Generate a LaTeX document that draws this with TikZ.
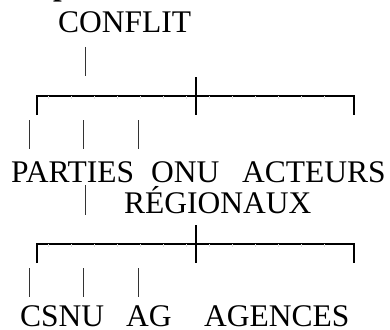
\documentclass[tikz,border=0pt]{standalone}
\usepackage{fontspec}
\setmainfont{Liberation Serif}
\begin{document}
\begin{tikzpicture}[x=1pt,y=-1pt,
    lbl/.style={anchor=base west,inner sep=0pt,font=\fontsize{31.5}{31.5}\selectfont},
    tick/.style={line width=0.9pt,black!80},
    bracket/.style={line width=2pt},
    seam/.style={line width=0.4pt,black!12}]
\useasboundingbox (0,0) rectangle (390,329);
\clip (0,0) rectangle (390,329);

% cut-off title above
\node[lbl,font=\bfseries\fontsize{31}{31}\selectfont] (titre) at (53,-4) {p};

% first level
\node[lbl] (conflit) at (58,33) {CONFLIT};
\draw[tick] (85,47) -- (85,76);

\draw[bracket] (37,115) -- (37,96) -- (354,96) -- (354,115);
\draw[bracket] (196,77) -- (196,115);
\foreach \x in {48,71,...,340}
    \draw[seam] (\x,96) -- (\x,99);
\foreach \x in {29,83,138}
    \draw[tick] (\x,120) -- (\x,149);

% second level
\node[lbl] (parties) at (11,182) {PARTIES};
\node[lbl] (onu) at (151,182) {ONU};
\node[lbl] (acteurs) at (242,182) {ACTEURS};
\node[lbl] (regionaux) at (124,213) {RÉGIONAUX};
\draw[tick] (85,185) -- (85,215);

\draw[bracket] (37,263) -- (37,244) -- (354,244) -- (354,263);
\draw[bracket] (196,225) -- (196,263);
\foreach \x in {48,71,...,340}
    \draw[seam] (\x,244) -- (\x,247);
\foreach \x in {29,83,138}
    \draw[tick] (\x,268) -- (\x,297);

% third level
\node[lbl] (csnu) at (20,326) {CSNU};
\node[lbl] (ag) at (126,326) {AG};
\node[lbl] (agences) at (204,326) {AGENCES};
\end{tikzpicture}
\end{document}
